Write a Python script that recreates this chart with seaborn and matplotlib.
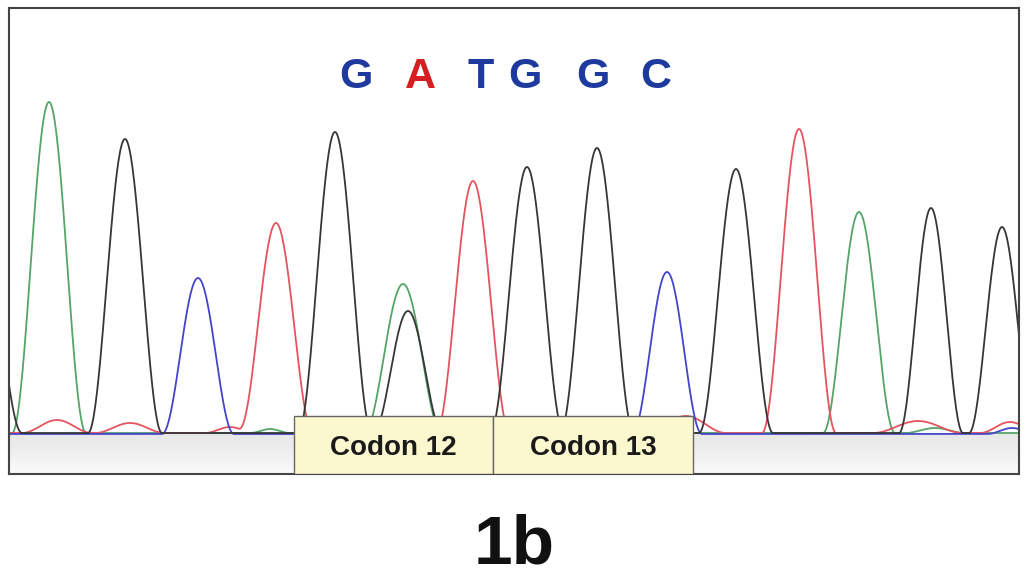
import numpy as np
import pandas as pd
import matplotlib
matplotlib.use("Agg")
import matplotlib.pyplot as plt
from matplotlib.patches import Rectangle
import seaborn as sns

# ── data (x in scan units, height above baseline) ──
peak_pos = [-15, 49, 125, 198, 276, 335, 403, 408, 473, 527, 597, 667, 736, 799, 859, 931, 1002]
peak_height = [175, 331, 294, 156, 210, 301, 149, 122, 252, 266, 285, 162, 264, 304, 221, 225, 206]
peak_halfwidth = [37, 37, 37, 36, 37, 37, 39, 35, 37, 37, 37, 35, 37, 37, 36, 32, 33]
peak_channel = ["black", "green", "black", "blue", "red", "black", "green", "black",
                "red", "black", "black", "blue", "black", "red", "green", "black", "black"]

# small baseline bumps
bump_pos = [57, 130, 230, 270, 686, 918, 1010, 935, 1012]
bump_height = [13, 10, 6, 4, 17, 12, 11, 5, 6]
bump_halfwidth = [35, 35, 25, 20, 40, 45, 30, 30, 25]
bump_channel = ["red", "red", "red", "green", "red", "red", "red", "green", "blue"]

channels = ["green", "red", "blue", "black"]
channel_colors = {"green": "#55a468", "red": "#e4545f", "blue": "#4444cc", "black": "#363636"}
channel_offset = {"green": 1, "red": 1, "blue": 0, "black": 1}

base_calls = ["G", "A", "T", "G", "G", "C"]
base_pos = [356, 420, 481, 525, 593, 656]
base_colors = ["#1f3a9e", "#d42020", "#1f3a9e", "#1f3a9e", "#1f3a9e", "#1f3a9e"]

codon_labels = ["Codon 12", "Codon 13"]
codon_edges = [294, 493, 693]

panel_label = "1b"


# ── build the four channel traces ─────────────────────────────
x = np.linspace(-60, 1060, 2241)


def add_peaks(trace, ch, pos, height, width, chan):
    for p, h, w, c in zip(pos, height, width, chan):
        if c != ch:
            continue
        d = x - p
        shape = np.where(np.abs(d) < w, np.cos(np.pi * d / (2 * w)) ** 2, 0.0)
        trace += h * shape
    return trace


rows = []
for ch in channels:
    y = np.full_like(x, float(channel_offset[ch]))
    y = add_peaks(y, ch, peak_pos, peak_height, peak_halfwidth, peak_channel)
    y = add_peaks(y, ch, bump_pos, bump_height, bump_halfwidth, bump_channel)
    rows.append(pd.DataFrame({"scan": x, "signal": y, "channel": ch}))
df = pd.concat(rows, ignore_index=True)


# ── figure ────────────────────────────────────────────────────
sns.set_theme(style="white")
plt.rcParams["font.family"] = ["Liberation Sans", "DejaVu Sans"]

W, H = 1029, 578
fig = plt.figure(figsize=(W / 100, H / 100), dpi=100)
ax = fig.add_axes([9 / W, (H - 474) / H, 1010 / W, 466 / H])

# light gray band below the baseline, a bit darker just under the trace
n_strips = 20
for i in range(n_strips):
    g = 0.975 - 0.07 * (i / (n_strips - 1))   # bottom light -> top darker
    y0 = -40 + 40 * i / n_strips
    ax.axhspan(y0, y0 + 40 / n_strips, color=(g, g, g), lw=0, zorder=0)

sns.lineplot(data=df, x="scan", y="signal", hue="channel", hue_order=channels,
             palette=channel_colors, estimator=None, sort=False, legend=False,
             linewidth=1.3, ax=ax, zorder=2)

# codon boxes
for i, lab in enumerate(codon_labels):
    x0, x1 = codon_edges[i], codon_edges[i + 1]
    ax.add_patch(Rectangle((x0, -40), x1 - x0, 58, facecolor="#fbf7cf",
                           edgecolor="#666666", linewidth=1.0, zorder=4))
    ax.text((x0 + x1) / 2, -21, lab, ha="center", va="baseline", fontsize=20,
            fontweight="bold", color="#1a1a1a", zorder=5)

# base calls
for b, p, c in zip(base_calls, base_pos, base_colors):
    ax.text(p, 346, b, ha="center", va="baseline", fontsize=31,
            fontweight="bold", color=c, zorder=5)

ax.set_xlim(9, 1019)
ax.set_ylim(-40, 426)
ax.set_xticks([])
ax.set_yticks([])
ax.set_xlabel("")
ax.set_ylabel("")
for s in ax.spines.values():
    s.set_visible(True)
    s.set_color("#444444")
    s.set_linewidth(1.5)

fig.text(514 / W, 1 - 563 / H, panel_label, ha="center", va="baseline",
         fontsize=50, fontweight="bold", color="#111111")

fig.savefig("out.png", dpi=100)
